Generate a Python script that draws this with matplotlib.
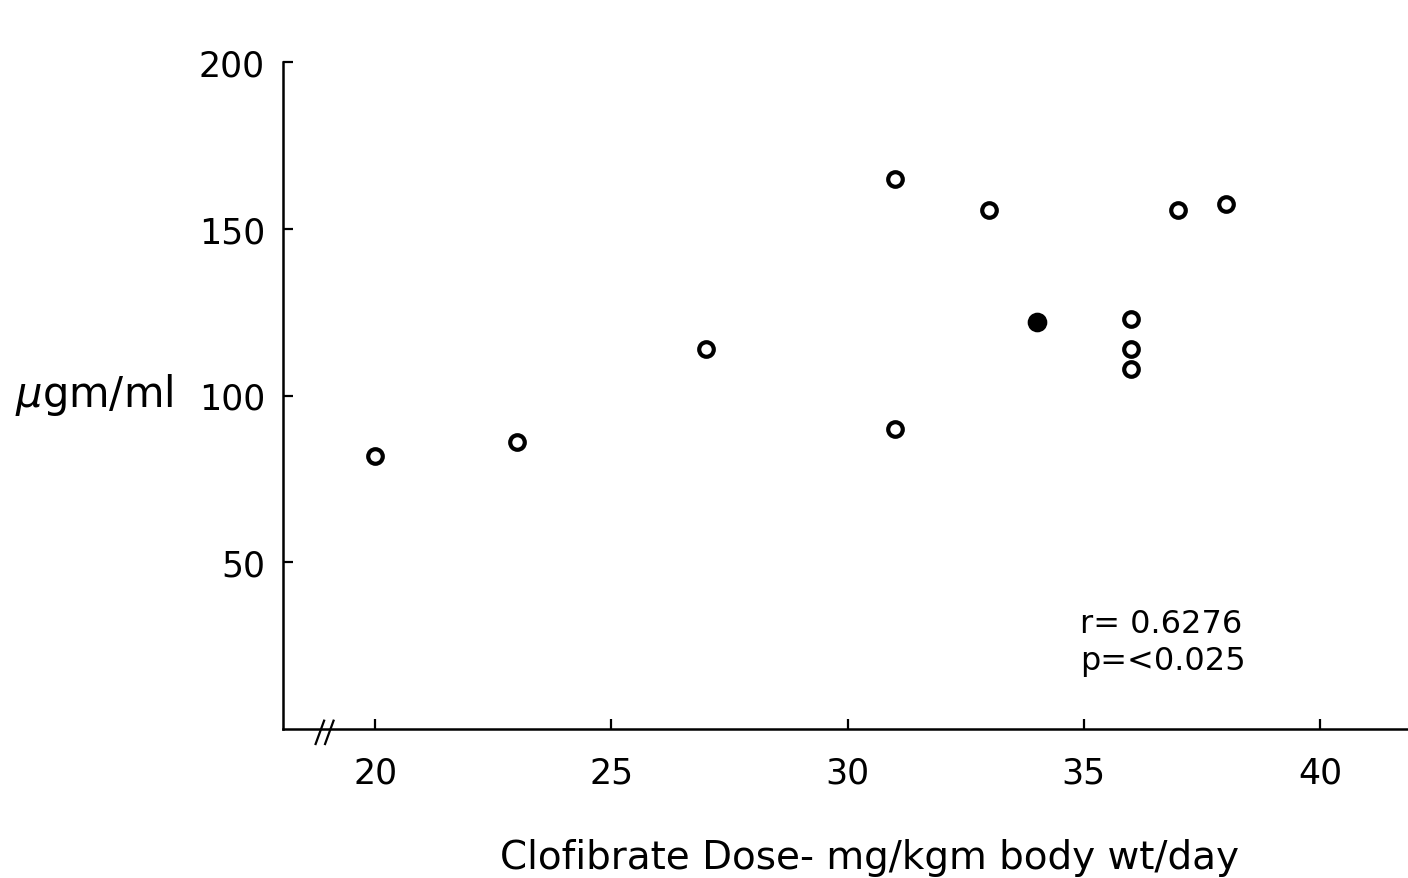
import matplotlib
matplotlib.use("Agg")
import matplotlib.pyplot as plt

# Clofibrate dose (mg/kgm/day) vs serum level (ugm/ml)
dose_open = [20, 23, 27, 31, 31, 33, 36, 36, 36, 37, 38]
level_open = [82, 86, 114, 165, 90, 155.5, 123, 114, 108, 155.5, 157.5]
dose_filled = [34]
level_filled = [122]

x_ticks = [20, 25, 30, 35, 40]
y_ticks = [50, 100, 150, 200]

FONT = "DejaVu Sans"

fig = plt.figure(figsize=(14.08, 8.79), dpi=100)
ax = fig.add_axes([283 / 1408, 1 - 730 / 879, 1 - 283 / 1408, (730 - 63) / 879])

ax.scatter(dose_open, level_open, s=110, facecolors="white", edgecolors="black",
           linewidths=3.0, zorder=3, clip_on=False)
ax.scatter(dose_filled, level_filled, s=160, facecolors="black", edgecolors="black",
           linewidths=1.5, zorder=3, clip_on=False)

ax.set_xlim(18.05, 41.86)
ax.set_ylim(0, 200)

for side in ("top", "right"):
    ax.spines[side].set_visible(False)
for side in ("left", "bottom"):
    ax.spines[side].set_linewidth(1.8)

ax.set_xticks(x_ticks)
ax.set_yticks(y_ticks)
ax.set_xticklabels([str(v) for v in x_ticks], fontsize=25, family=FONT)
ax.set_yticklabels([str(v) for v in y_ticks], fontsize=25, family=FONT)
ax.tick_params(axis="both", direction="in", length=7, width=1.6)
ax.tick_params(axis="x", pad=19)
ax.tick_params(axis="y", pad=13)

# axis break marks on the x axis
for dx in (-0.12, 0.08):
    ax.plot([18.86 + dx, 19.04 + dx], [-4.5, 2.5], color="black", lw=1.6,
            clip_on=False, zorder=4)

fig.text(15 / 1408, 1 - 395 / 879, r"$\mu$gm/ml", fontsize=30, family=FONT,
         ha="left", va="center")
fig.text(870 / 1408, 1 - 858 / 879, "Clofibrate Dose- mg/kgm body wt/day",
         fontsize=28, family=FONT, ha="center", va="center")

ax.text(34.92, 31.5, "r= 0.6276", fontsize=23, family=FONT, ha="left", va="center")
ax.text(34.92, 20.5, "p=<0.025", fontsize=23, family=FONT, ha="left", va="center")

fig.savefig("out.png", dpi=100, facecolor="white")
